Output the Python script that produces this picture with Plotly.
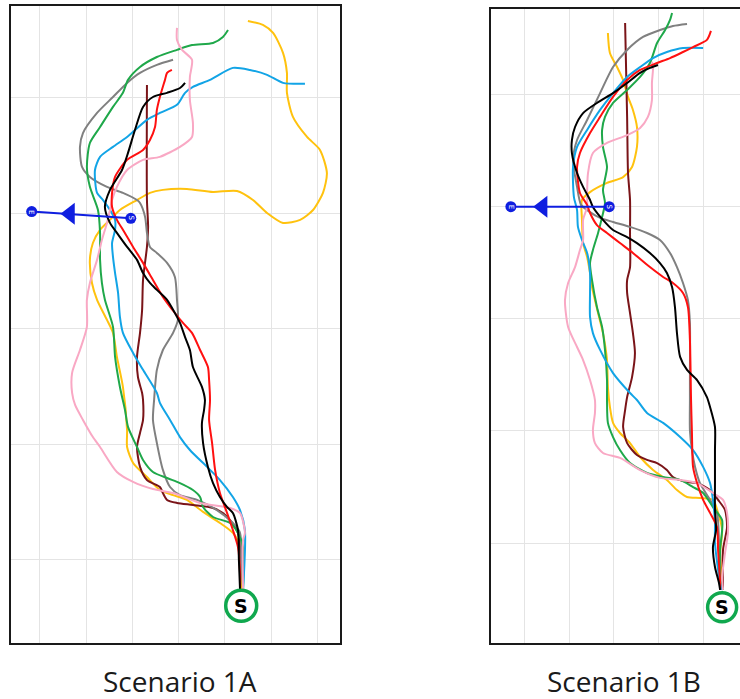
import plotly.graph_objects as go

# ---------------- Scenario 1A (left panel) trajectories: (x, y) in arena units ----------------
A_yellow = [(8.70,-1.30),(8.66,0.56),(8.35,1.17),(7.79,1.60),(7.06,2.08),(6.36,2.60),(5.76,2.81),(5.19,3.03),
            (4.63,3.59),(4.03,4.20),(3.77,4.89),(3.77,5.63),(3.59,7.49),(3.33,8.79),(3.16,9.83),(2.90,10.39),
            (2.47,11.26),(2.25,11.99),(2.16,12.99),(2.29,13.72),(2.60,14.29),(3.03,14.72),(3.46,15.15),(4.20,15.58),
            (4.76,15.89),(5.32,16.02),(6.36,16.06),(7.49,15.93),(8.53,15.97),(9.22,15.58),(9.83,15.02),(10.52,14.59),
            (11.26,14.72),(11.82,15.15),(12.25,15.89),(12.42,16.75),(12.12,17.75),(11.56,18.31),(10.95,19.18),
            (10.69,20.22),(10.69,21.08),(10.52,21.95),(10.09,22.81),(9.65,23.16),(9.00,23.33)]
A_pink = [(8.79,-1.30),(8.79,0.87),(8.87,1.17),(8.66,2.03),(8.23,2.25),(6.93,2.47),(5.76,2.90),(4.89,3.07),
          (4.03,3.38),(3.33,3.81),(2.60,4.89),(2.29,5.32),(1.86,6.06),(1.52,6.71),(1.39,7.23),(1.39,8.10),
          (1.73,9.09),(2.03,10.09),(2.03,11.26),(2.16,11.99),(2.47,12.99),(2.68,13.85),(2.90,14.59),(3.03,15.15),
          (3.12,15.58),(3.33,16.15),(3.77,16.88),(4.46,17.32),(5.19,17.45),(6.06,17.88),(6.58,18.31),(6.62,18.92),
          (6.49,19.91),(6.49,20.91),(6.58,21.65),(6.15,22.08),(5.93,22.51),(5.93,23.03)]
A_green = [(8.79,-1.21),(8.79,0.56),(8.57,1.17),(8.23,1.60),(7.49,1.86),(7.06,2.29),(6.93,2.73),(6.62,3.03),
           (6.06,3.33),(5.50,3.55),(4.89,3.81),(4.46,4.33),(4.20,4.89),(3.81,5.76),(3.68,6.49),(3.46,7.49),
           (3.25,8.79),(3.16,10.09),(2.81,11.26),(2.68,11.99),(2.60,12.99),(2.60,14.16),(2.51,15.15),(2.16,16.15),
           (2.03,17.01),(2.16,18.05),(2.60,18.74),(3.16,19.61),(3.59,20.22),(3.81,20.78),(4.33,21.34),(5.06,21.77),
           (5.93,22.08),(6.58,22.29),(7.49,22.38),(7.92,22.64),(8.14,22.94)]
A_gray = [(8.66,-1.21),(8.66,1.17),(8.35,1.60),(7.66,2.16),(6.80,2.60),(6.06,2.81),(5.63,3.16),(5.32,3.90),
          (5.06,5.06),(4.89,6.06),(4.94,6.93),(5.06,8.23),(5.32,9.09),(5.76,9.83),(5.97,10.39),(5.93,11.26),
          (5.84,12.25),(5.50,12.86),(5.06,13.29),(4.76,13.55),(4.63,14.16),(4.55,14.85),(4.33,15.45),(4.20,15.58),
          (3.59,15.89),(2.90,16.15),(2.16,16.58),(1.82,17.01),(1.73,17.88),(1.86,18.48),(2.47,19.35),(3.16,20.04),
          (3.77,20.65),(4.33,21.08),(5.06,21.43),(5.76,21.65)]
A_black = [(8.66,-1.30),(8.61,0.00),(8.57,1.30),(8.35,2.03),(8.10,2.29),(7.79,2.73),(7.49,3.33),(7.27,4.03),
           (7.06,5.06),(7.01,5.93),(7.10,6.49),(7.14,6.93),(7.01,7.49),(6.62,8.35),(6.49,9.09),(6.28,9.65),
           (6.06,10.26),(5.84,10.69),(5.50,11.26),(5.06,11.69),(4.76,11.99),(4.46,12.42),(4.20,12.99),(3.77,13.55),
           (3.33,14.16),(3.03,14.59),(2.81,15.28),(3.03,16.02),(3.55,16.88),(3.81,17.62),(4.11,18.61),(4.46,19.61),
           (4.89,20.04),(5.50,20.22),(6.06,20.43),(6.28,20.65)]
A_red = [(8.66,-1.21),(8.66,-0.56),(8.57,0.56),(8.35,1.30),(8.10,2.03),(7.79,2.90),(7.58,3.90),(7.45,5.06),
         (7.32,6.06),(7.36,6.93),(7.32,7.79),(7.27,8.35),(6.93,9.09),(6.58,9.83),(6.19,10.26),(5.84,10.69),
         (5.32,11.39),(4.89,12.12),(4.46,12.86),(4.03,13.55),(3.59,14.29),(3.33,14.72),(3.12,15.28),(3.12,15.89),
         (3.25,16.58),(3.77,17.32),(4.46,17.75),(4.76,18.18),(4.98,18.74),(5.06,19.48),(5.19,20.04),(5.41,20.78),
         (5.50,21.08),(5.71,21.21)]
A_blue = [(8.79,-1.30),(8.87,1.30),(8.66,2.16),(8.35,2.73),(7.79,3.46),(7.23,4.03),(6.49,4.76),(6.06,5.32),
          (5.63,6.06),(5.19,6.80),(5.06,7.23),(4.46,8.23),(4.03,8.96),(3.59,9.83),(3.46,10.52),(3.38,11.56),
          (3.25,12.42),(3.16,13.12),(3.12,13.72),(3.25,14.29),(3.25,14.72),(3.03,15.15),(2.73,15.58),(2.47,15.89),
          (2.38,16.88),(2.60,17.45),(3.16,17.88),(3.77,18.31),(4.63,19.05),(5.19,19.35),(5.93,19.70),(6.28,20.22),
          (6.62,20.48),(7.36,20.78),(8.35,21.30),(9.09,21.21),(9.83,21.00),(10.52,20.65),(11.47,20.61)]
A_maroon = [(8.66,-1.21),(8.66,0.56),(8.57,1.17),(8.23,1.73),(7.92,2.03),(7.49,2.25),(6.62,2.38),(5.93,2.47),
            (5.50,2.60),(5.32,2.90),(5.19,3.16),(4.63,3.46),(4.33,4.03),(4.20,4.89),(4.33,5.50),(4.46,6.06),
            (4.46,6.93),(4.42,7.23),(4.24,7.92),(4.20,8.79),(4.33,9.83),(4.42,10.82),(4.46,12.12),(4.63,13.55),
            (4.68,14.42),(4.63,15.58),(4.63,20.56)]

# ---------------- Scenario 1B (right panel) trajectories ----------------
B_yellow = [(8.89,-2.09),(8.85,-1.65),(8.76,-0.45),(8.85,0.58),(8.67,1.34),(8.44,1.92),(7.86,2.00),(7.28,2.05),
            (6.83,2.36),(6.38,2.81),(5.76,3.25),(5.18,3.83),(4.73,4.45),(4.28,4.90),(3.97,5.35),(3.83,6.06),
            (3.74,6.95),(3.70,8.15),(3.52,9.35),(3.30,10.24),(3.03,11.40),(2.94,12.03),(2.81,12.74),(2.63,13.36),
            (2.58,14.39),(2.58,15.28),(2.94,15.63),(3.70,16.04),(4.42,16.30),(4.82,16.75),(5.04,17.64),(5.04,18.53),
            (4.86,19.29),(4.64,19.87),(4.42,20.62),(4.15,21.20),(3.83,21.83),(3.74,22.72)]
B_pink = [(8.89,-2.09),(8.85,-1.51),(8.98,-0.45),(9.11,0.45),(9.07,1.34),(8.89,1.92),(8.44,2.23),(7.73,2.67),
          (6.97,2.81),(6.07,2.90),(5.18,3.25),(4.28,3.79),(3.52,4.01),(3.16,4.45),(3.07,5.03),(3.16,5.79),
          (3.16,6.37),(2.94,7.26),(2.63,8.15),(2.36,8.73),(1.96,9.62),(1.82,10.82),(1.96,11.58),(2.27,12.29),
          (2.49,13.05),(2.63,13.50),(2.63,14.39),(2.81,14.97),(2.81,15.59),(2.85,16.48),(3.07,17.37),(3.70,17.82),
          (4.60,18.17),(5.18,18.49),(5.53,18.98),(5.71,19.73),(5.71,20.49),(5.76,21.20),(5.71,21.43)]
B_green = [(8.89,-2.09),(8.76,-1.51),(8.76,-0.31),(8.85,1.02),(8.44,1.60),(8.00,2.23),(7.55,2.49),(6.97,2.81),
           (6.21,2.94),(5.49,3.12),(4.73,3.56),(4.28,4.14),(3.97,4.72),(3.74,5.35),(3.70,6.37),(3.70,7.26),
           (3.61,8.60),(3.48,9.62),(3.25,10.51),(3.03,11.71),(2.94,12.47),(3.07,13.05),(3.30,13.81),(3.48,14.52),
           (3.61,15.14),(3.52,15.72),(3.70,16.75),(3.52,17.64),(3.48,18.40),(3.61,18.98),(3.97,19.60),(4.60,20.18),
           (5.18,20.76),(5.62,21.38),(5.94,22.27),(6.30,22.85),(6.52,23.30),(6.61,23.61)]
B_gray = [(8.76,-2.00),(8.71,0.13),(8.62,1.34),(8.31,1.92),(7.86,2.67),(7.64,3.39),(7.50,4.14),(7.41,5.03),
          (7.41,6.37),(7.41,7.71),(7.41,9.80),(7.32,10.82),(7.10,11.58),(6.83,12.29),(6.52,12.92),(6.07,13.50),
          (5.49,13.81),(4.73,14.08),(3.97,14.30),(3.39,14.48),(2.94,14.74),(2.54,15.06),(2.36,15.86),(2.18,17.06),
          (2.36,17.95),(2.81,18.84),(3.39,20.04),(3.97,21.20),(4.60,21.96),(5.31,22.54),(6.07,22.85),(6.65,23.03),
          (7.28,23.12)]
B_black = [(8.76,-2.09),(8.71,-1.78),(8.53,-1.07),(8.44,-0.18),(8.58,0.58),(8.53,1.47),(8.53,2.67),(8.53,4.14),
           (8.53,5.17),(8.31,6.06),(8.17,6.50),(7.73,7.26),(7.28,7.71),(6.97,8.29),(6.83,9.35),(6.74,10.51),
           (6.61,11.40),(6.38,12.03),(6.07,12.47),(5.62,12.92),(5.04,13.36),(4.60,13.63),(3.97,13.94),(3.52,14.39),
           (3.07,14.97),(2.94,15.28),(2.63,15.86),(2.36,16.48),(2.13,17.37),(2.13,17.95),(2.27,18.53),(2.63,19.15),
           (3.25,19.60),(3.97,20.04),(4.60,20.49),(5.18,20.94),(5.62,21.16),(5.98,21.29)]
B_red = [(8.76,-2.09),(8.76,-1.78),(8.67,-0.31),(8.62,0.71),(8.31,1.34),(8.00,1.92),(7.73,2.67),(7.55,3.39),
         (7.50,4.90),(7.46,6.37),(7.41,9.04),(7.32,10.51),(7.10,11.14),(6.65,11.58),(6.21,11.85),(5.62,12.29),
         (4.86,12.92),(4.28,13.36),(3.70,13.81),(3.25,14.16),(2.94,14.70),(2.81,15.06),(2.49,15.59),(2.36,16.75),
         (2.49,17.37),(2.94,18.26),(3.39,18.98),(3.97,19.87),(4.60,20.62),(5.18,21.07),(5.94,21.38),(6.52,21.60),
         (7.10,21.87),(7.55,22.09),(8.17,22.41),(8.35,22.81)]
B_blue = [(8.85,-2.09),(8.76,-1.78),(8.53,0.00),(8.53,0.89),(8.44,1.92),(8.31,2.67),(8.00,3.39),(7.55,4.14),
          (6.97,4.72),(6.21,5.35),(5.49,5.79),(5.04,6.37),(4.73,6.68),(3.97,7.57),(3.39,8.60),(3.07,9.35),
          (2.94,10.07),(2.94,11.14),(2.94,12.03),(2.81,12.92),(2.58,13.50),(2.40,14.08),(2.36,14.83),(2.22,15.41),
          (2.18,16.75),(2.36,17.64),(2.81,18.40),(3.39,19.29),(3.97,20.04),(4.60,20.76),(5.18,21.20),(5.76,21.60),
          (6.38,21.87),(7.10,22.05),(8.00,22.05)]
B_maroon = [(8.89,-2.09),(8.89,-0.31),(9.07,0.71),(8.98,1.47),(8.67,1.92),(8.31,2.36),(7.73,2.67),(7.28,2.72),
            (6.65,2.94),(6.38,3.25),(5.94,3.56),(5.49,3.70),(5.04,3.92),(4.60,4.45),(4.42,5.17),(4.51,5.92),
            (4.60,6.50),(4.82,7.39),(4.95,8.46),(4.86,9.35),(4.73,10.24),(4.60,11.14),(4.60,11.71),(4.73,12.29),
            (4.73,13.81),(4.73,15.28),(4.64,16.48),(4.60,18.98),(4.51,23.16)]

# Start points and exit (E -> S) markers
A_start = (8.71, -1.98)
B_start = (8.85, -2.86)
A_exit_x = [-0.36, 3.93]
A_exit_y = [15.08, 14.79]
A_arrow = (1.30, 14.99)
B_exit_x = [-0.60, 3.80]
B_exit_y = [14.98, 14.98]
B_arrow = (0.82, 14.98)

captions = ["Scenario 1A", "Scenario 1B"]

COLORS = {
    "yellow": "#FFC20E", "maroon": "#7A1418", "gray": "#808080", "green": "#1FA84A",
    "blue": "#12A4E6", "pink": "#F9A8C4", "red": "#FF1010", "black": "#000000",
}
ORDER = ["yellow", "maroon", "gray", "green", "blue", "pink", "red", "black"]
A_TRAJ = {"yellow": A_yellow, "pink": A_pink, "green": A_green, "gray": A_gray,
          "black": A_black, "red": A_red, "blue": A_blue, "maroon": A_maroon}
B_TRAJ = {"yellow": B_yellow, "pink": B_pink, "green": B_green, "gray": B_gray,
          "black": B_black, "red": B_red, "blue": B_blue, "maroon": B_maroon}

BLUE_MARK = "#0F1EE0"
START_GREEN = "#10A84E"

fig = go.Figure()

for trajs, xa, ya in [(A_TRAJ, "x", "y"), (B_TRAJ, "x2", "y2")]:
    for name in ORDER:
        pts = trajs[name]
        fig.add_trace(go.Scatter(
            x=[p[0] for p in pts], y=[p[1] for p in pts], mode="lines",
            line=dict(color=COLORS[name], width=2, shape="spline", smoothing=0.7),
            xaxis=xa, yaxis=ya, showlegend=False, hoverinfo="skip"))

for ex, ey, arr, xa, ya in [(A_exit_x, A_exit_y, A_arrow, "x", "y"), (B_exit_x, B_exit_y, B_arrow, "x2", "y2")]:
    fig.add_trace(go.Scatter(x=ex, y=ey, mode="lines+markers",
                             line=dict(color=BLUE_MARK, width=2),
                             marker=dict(size=11, color=BLUE_MARK),
                             xaxis=xa, yaxis=ya, showlegend=False, hoverinfo="skip"))
    fig.add_trace(go.Scatter(x=[arr[0]], y=[arr[1]], mode="markers",
                             marker=dict(symbol="triangle-left", size=19, color=BLUE_MARK),
                             xaxis=xa, yaxis=ya, showlegend=False, hoverinfo="skip"))
    for px, py, t in [(ex[0], ey[0], "E"), (ex[1], ey[1], "S")]:
        fig.add_annotation(x=px, y=py, xref=xa, yref=ya, text=t, showarrow=False, textangle=90,
                           font=dict(family="DejaVu Sans", size=7, color="white"))

for st, xa, ya, sz in [(A_start, "x", "y", 31), (B_start, "x2", "y2", 29)]:
    fig.add_trace(go.Scatter(x=[st[0]], y=[st[1]], mode="markers",
                             marker=dict(symbol="circle", size=sz, color="white",
                                         line=dict(color=START_GREEN, width=3.5)),
                             xaxis=xa, yaxis=ya, showlegend=False, hoverinfo="skip"))
    fig.add_annotation(x=st[0], y=st[1], xref=xa, yref=ya, text="<b>S</b>", showarrow=False,
                       font=dict(family="DejaVu Sans", size=19, color="black"))

W, H = 740, 699
axis_common = dict(showgrid=True, gridcolor="#e4e4e4", gridwidth=1, zeroline=False,
                   showticklabels=False, ticks="", linecolor="#1a1a1a", linewidth=2)

fig.update_layout(
    width=W, height=H, margin=dict(l=0, r=0, t=0, b=0), autosize=False,
    paper_bgcolor="white", plot_bgcolor="white",
    xaxis=dict(domain=[11 / W, 340 / W], range=[-1.255, 12.987], tickvals=[0, 2, 4, 6, 8, 10, 12],
               showline=True, mirror=True, anchor="y", **axis_common),
    yaxis=dict(domain=[(H - 643) / H, (H - 5.5) / H], range=[-3.593, 24.0], tickvals=[0, 5, 10, 15, 20],
               showline=True, mirror=True, anchor="x", **axis_common),
    xaxis2=dict(domain=[491 / W, 1.0], range=[-1.49, 9.65], tickvals=[0, 2, 4, 6, 8],
                showline=True, mirror=True, anchor="y2", **axis_common),
    yaxis2=dict(domain=[(H - 643) / H, (H - 9) / H], range=[-4.454, 23.786], tickvals=[0, 5, 10, 15, 20],
                showline=True, mirror=False, anchor="x2", **axis_common),
)

for cx, txt in [(180 / W, captions[0]), (624 / W, captions[1])]:
    fig.add_annotation(x=cx, y=(H - 681) / H, xref="paper", yref="paper", text=txt, showarrow=False,
                       xanchor="center", yanchor="middle",
                       font=dict(family="Open Sans", size=28, color="#1a1a1a"))

fig.write_html("out.html", config={"displayModeBar": False})
